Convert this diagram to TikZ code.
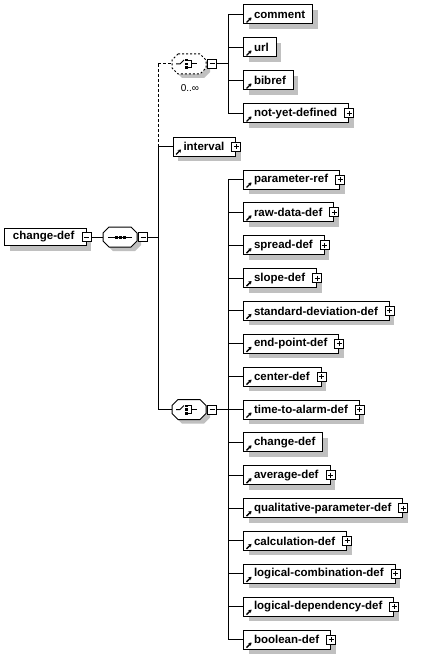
\documentclass[tikz,border=0pt]{standalone}
\usepackage{fontspec}
\setmainfont{Liberation Sans}
\usetikzlibrary{arrows.meta,shadows,calc}
\definecolor{shc}{RGB}{192,192,192}
\tikzset{
  every picture/.style={line width=1pt},
  elem/.style={draw, fill=white, anchor=west, inner xsep=0pt, inner ysep=0pt,
    minimum height=19pt, font=\bfseries\fontsize{11.5}{13}\selectfont,
    general shadow={fill=shc, shadow xshift=5pt, shadow yshift=-5pt}},
  rootbox/.style={elem, minimum height=17pt},
  pmbase/.style={draw, fill=white, minimum size=9pt, inner sep=0pt},
  minusbox/.style={pmbase, path picture={
    \draw[line width=1pt] ([xshift=2pt]path picture bounding box.west) -- ([xshift=-2pt]path picture bounding box.east);}},
  plusbox/.style={pmbase, path picture={
    \draw[line width=1pt] ([xshift=2pt]path picture bounding box.west) -- ([xshift=-2pt]path picture bounding box.east);
    \draw[line width=1pt] ([yshift=-2pt]path picture bounding box.north) -- ([yshift=2pt]path picture bounding box.south);}},
  refarrow/.style={line width=1.4pt, -{Stealth[length=3pt,width=4pt]}},
  optline/.style={dash pattern=on 3pt off 2pt},
  optocto/.style={dash pattern=on 2pt off 2pt},
  card/.style={font=\fontsize{10}{12}\selectfont, inner sep=0pt}
}
\newcommand\elemP[4]{%
  \node[elem] (#1) at (#2,#3) {\hspace*{10.5pt}#4\hspace*{11.5pt}};
  \draw[refarrow] ([xshift=3.5pt,yshift=2pt]#1.south west) -- ++(5,-5);
  \node[plusbox] (#1pm) at (#1.east) {};
}
\newcommand\elemN[4]{%
  \node[elem] (#1) at (#2,#3) {\hspace*{10.5pt}#4\hspace*{7.5pt}};
  \draw[refarrow] ([xshift=3.5pt,yshift=2pt]#1.south west) -- ++(5,-5);
}
\newcommand\octo[5]{%
  \begin{scope}[shift={(#2,#3)}]
    \fill[shc] (-7,-6) -- (15,-6) -- (21,0) -- (21,8) -- (15,14) -- (-7,14) -- (-13,8) -- (-13,0) -- cycle;
    \draw[fill=white,#4] (-11,-10) -- (11,-10) -- (17,-4) -- (17,4) -- (11,10) -- (-11,10) -- (-17,4) -- (-17,-4) -- cycle;
    \node[minimum width=34pt, minimum height=20pt, inner sep=0pt] (#1) at (0,0) {};
    #5
  \end{scope}
  \node[minusbox] (#1pm) at ([xshift=5.5pt]#1.east) {};
}
\newcommand\seqsym{%
  \draw (-12,0) -- (12,0);
  \fill (-5.5,-1.5) rectangle (-2.5,1.5);
  \fill (-1.5,-1.5) rectangle (1.5,1.5);
  \fill (2.5,-1.5) rectangle (5.5,1.5);
}
\newcommand\chsym{%
  \draw (-13,0) -- (-9,0) -- (-5,-4);
  \fill (-4,-5) rectangle (-1.5,-2.5);
  \fill (-4,-1.25) rectangle (-1.5,1.25);
  \fill (-4,2.5) rectangle (-1.5,5);
  \draw (-1.5,-3.75) -- (2,-3.75) -- (2,3.75) -- (-1.5,3.75);
  \draw (2,0) -- (8,0);
}
\begin{document}
\begin{tikzpicture}[x=1pt,y=-1pt]
\useasboundingbox[fill=white] (0,0) rectangle (424,658);

% root
\node[rootbox] (root) at (4,237) {\hspace*{8.5pt}change-def\hspace*{12pt}};
\node[minusbox] (rootpm) at (root.east) {};

% sequence
\octo{seq}{120}{237}{}{\seqsym}

% choices
\octo{chA}{189}{64}{optocto}{\chsym}
\node[card] (cardA) at (190,88.5) {0..\char"221E};
\octo{chB}{189}{409.5}{}{\chsym}

% top choice children
\elemN{comment}{243}{14.5}{comment}
\elemN{url}{243}{47.5}{url}
\elemN{bibref}{243}{80.5}{bibref}
\elemP{nyd}{243}{113.5}{not-yet-defined}

% interval
\elemP{interval}{172.5}{146.5}{interval}

% bottom choice children
\elemP{pref}{243}{179.5}{parameter-ref}
\elemP{rawd}{243}{212.36}{raw-data-def}
\elemP{spread}{243}{245.21}{spread-def}
\elemP{slope}{243}{278.07}{slope-def}
\elemP{stdev}{243}{310.93}{standard-deviation-def}
\elemP{endp}{243}{343.79}{end-point-def}
\elemP{center}{243}{376.64}{center-def}
\elemP{tta}{243}{409.5}{time-to-alarm-def}
\elemN{cdef}{243}{442.36}{change-def}
\elemP{avg}{243}{475.21}{average-def}
\elemP{qual}{243}{508.07}{qualitative-parameter-def}
\elemP{calc}{243}{540.93}{calculation-def}
\elemP{lcomb}{243}{573.79}{logical-combination-def}
\elemP{ldep}{243}{606.64}{logical-dependency-def}
\elemP{bool}{243}{639.5}{boolean-def}

% connectors
\coordinate (trunk) at (158,237);
\coordinate (tTop) at (158,64);
\coordinate (tInt) at (158,146.5);
\coordinate (tBot) at (158,409.5);
\coordinate (bA) at (228,64);
\coordinate (bB) at (228,409.5);

\draw (rootpm.east) -- (seq.west);
\draw (seqpm.east) -- (trunk);
\draw (tInt) -- (tBot);
\draw[optline] (tTop) -- (tInt);
\draw[optline] (tTop) -- (chA.west);
\draw (tInt) -- (interval.west);
\draw (tBot) -- (chB.west);

\draw (chApm.east) -- (bA);
\foreach \n in {comment,url,bibref,nyd} \draw (bA) |- (\n.west);
\draw (chBpm.east) -- (bB);
\foreach \n in {pref,rawd,spread,slope,stdev,endp,center,tta,cdef,avg,qual,calc,lcomb,ldep,bool}
  \draw (bB) |- (\n.west);
\end{tikzpicture}
\end{document}
